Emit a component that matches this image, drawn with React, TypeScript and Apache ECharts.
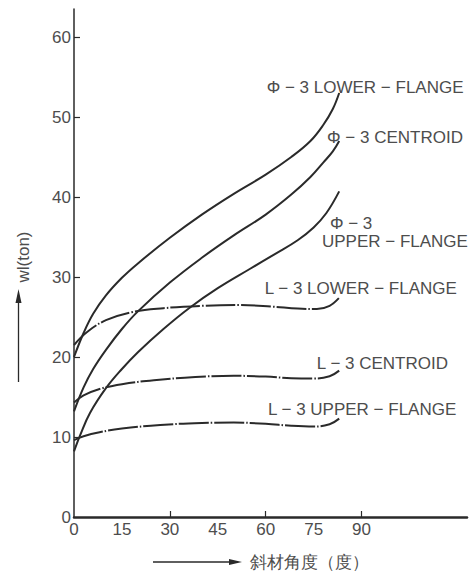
import React, { useEffect, useRef } from "react";
import * as echarts from "echarts";

// Angle (deg) / load (ton) pairs
const phiLower: [number, number][] = [[0, 20], [3, 23], [6, 25.4], [10, 27.7], [15, 29.9], [20, 31.7], [30, 34.9], [40, 37.8], [50, 40.4], [60, 42.8], [68, 45], [74, 47], [78, 49], [81, 51], [83, 53]];
const phiCentroid: [number, number][] = [[0, 13.2], [3, 16.2], [6, 18.5], [10, 20.9], [15, 23.5], [20, 25.7], [30, 29.3], [40, 32.4], [50, 35.2], [60, 37.8], [68, 40.3], [74, 42.5], [78, 44.3], [81, 45.7], [83, 47]];
const phiUpper: [number, number][] = [[0, 8.2], [2, 10.3], [5, 13], [10, 16.1], [15, 18.5], [20, 20.6], [28, 23.5], [36, 26.1], [45, 28.6], [55, 31], [63, 32.9], [70, 34.6], [75, 36.2], [79, 38], [83, 40.7]];
const lLower: [number, number][] = [[0, 21.5], [4, 23.1], [10, 24.6], [18, 25.6], [28, 26.1], [40, 26.4], [52, 26.5], [62, 26.3], [70, 26.05], [76, 26], [80, 26.4], [83, 27.4]];
const lCentroid: [number, number][] = [[0, 14.3], [3, 15.2], [8, 16.0], [15, 16.6], [25, 17.1], [38, 17.5], [50, 17.65], [60, 17.55], [68, 17.35], [75, 17.3], [80, 17.6], [83, 18.3]];
const lUpper: [number, number][] = [[0, 9.6], [3, 10.1], [8, 10.6], [15, 11.05], [27, 11.5], [40, 11.75], [50, 11.8], [60, 11.65], [68, 11.4], [75, 11.3], [80, 11.6], [83, 12.3]];

const xLabels = [0, 15, 30, 45, 60, 75, 90];
const xTicks = [30, 60, 90];
const yLabels = [0, 10, 20, 30, 40, 50, 60];
const yTicks = [10, 20, 30, 40, 50, 60];

// Curve labels: text and anchor (left edge, vertical centre) in data units
const curveLabels: { text: string; at: [number, number] }[] = [
  { text: "Φ − 3 LOWER − FLANGE", at: [60.3, 53.75] },
  { text: "Φ − 3 CENTROID", at: [79.2, 47.5] },
  { text: "Φ − 3", at: [80.1, 36.75] },
  { text: "UPPER − FLANGE", at: [77.6, 34.4] },
  { text: "L − 3 LOWER − FLANGE", at: [59.7, 28.6] },
  { text: "L − 3 CENTROID", at: [76, 19.25] },
  { text: "L − 3 UPPER − FLANGE", at: [60.7, 13.4] },
];

const xName = "斜材角度（度）";
const yName = "wl(ton)";

const FONT = '"Liberation Sans", Arial, sans-serif';
const TEXT = "#4d4d4d";
const LINE = "#2a2a2a";

export default function App() {
  const ref = useRef<HTMLDivElement>(null);
  useEffect(() => {
    if (!ref.current) return;
    const chart = echarts.init(ref.current, null, { renderer: "svg" });
    const mk = (data: [number, number][], dashed: boolean) => ({
      type: "line",
      data,
      smooth: 0.4,
      showSymbol: false,
      symbol: "none",
      lineStyle: {
        color: LINE,
        width: 2,
        type: dashed ? [30, 2, 1.5, 2] : "solid",
      },
    });
    chart.setOption({
      animation: false,
      grid: { left: 74, right: 4, top: 9, bottom: 56 },
      xAxis: {
        type: "value",
        min: 0,
        max: 123,
        axisLine: { show: true, lineStyle: { color: LINE, width: 2.5 } },
        axisTick: { show: true, inside: true, length: 6, customValues: xTicks, lineStyle: { color: LINE, width: 1.2 } },
        axisLabel: { customValues: xLabels, color: TEXT, fontSize: 17, fontFamily: FONT, margin: 4 },
        splitLine: { show: false },
      },
      yAxis: {
        type: "value",
        min: 0,
        max: 63.5,
        axisLine: { show: true, lineStyle: { color: LINE, width: 1.5 } },
        axisTick: { show: true, inside: true, length: 6, customValues: yTicks, lineStyle: { color: LINE, width: 1.2 } },
        axisLabel: { customValues: yLabels, color: TEXT, fontSize: 17, fontFamily: FONT, margin: 3 },
        splitLine: { show: false },
      },
      series: [
        mk(phiLower, false),
        mk(phiCentroid, false),
        mk(phiUpper, false),
        mk(lLower, true),
        mk(lCentroid, true),
        mk(lUpper, true),
      ],
    });
    const labelEls = curveLabels.map((l) => {
      const p = chart.convertToPixel({ gridIndex: 0 }, l.at) as number[];
      return {
        type: "text",
        x: p[0],
        y: p[1],
        style: { text: l.text, fill: TEXT, font: `17px ${FONT}`, align: "left", verticalAlign: "middle" },
      };
    });
    chart.setOption({
      graphic: [
        ...labelEls,
        // y-axis name with arrow
        { type: "text", x: 23, y: 257, rotation: Math.PI / 2, style: { text: yName, fill: TEXT, font: `17px ${FONT}`, align: "center", verticalAlign: "middle" } },
        { type: "line", shape: { x1: 18.5, y1: 382, x2: 18.5, y2: 300 }, style: { stroke: LINE, lineWidth: 1.3 } },
        { type: "polygon", shape: { points: [[18.5, 289], [15.5, 303], [21.5, 303]] }, style: { fill: LINE } },
        // x-axis name with arrow
        { type: "line", shape: { x1: 153, y1: 562, x2: 232, y2: 562 }, style: { stroke: LINE, lineWidth: 1.3 } },
        { type: "polygon", shape: { points: [[242, 562], [229, 559], [229, 565]] }, style: { fill: LINE } },
        { type: "text", x: 250, y: 562, style: { text: xName, fill: TEXT, font: `17px ${FONT}`, align: "left", verticalAlign: "middle" } },
      ],
    });
    return () => chart.dispose();
  }, []);
  return <div ref={ref} style={{ position: "fixed", left: 0, top: 0, width: 471, height: 573, background: "#fff" }} />;
}
